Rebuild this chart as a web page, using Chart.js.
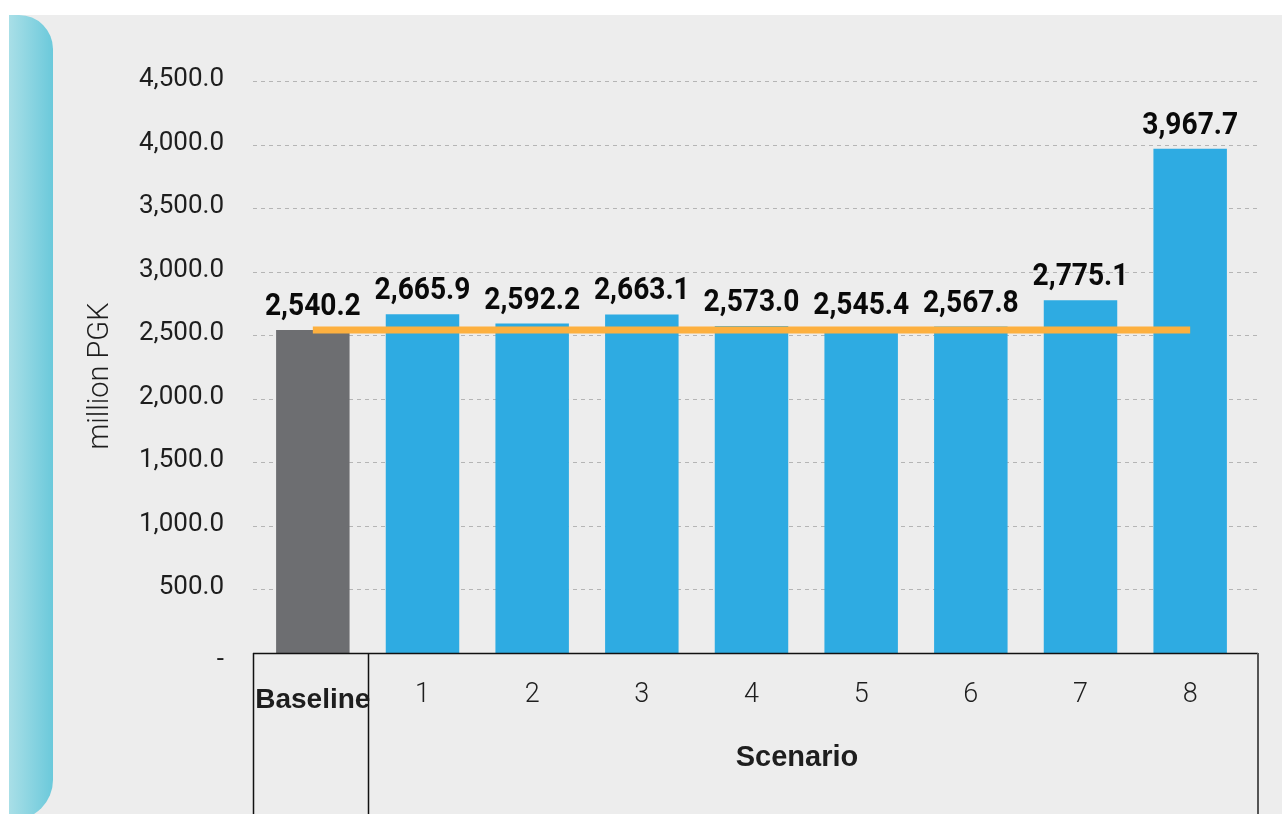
<!DOCTYPE html>
<html>
<head>
<meta charset="utf-8">
<title>Scenario totals</title>
<script src="https://cdn.jsdelivr.net/npm/chart.js@4.4.1/dist/chart.umd.min.js"></script>
<style>
  html, body { margin: 0; padding: 0; background: #ffffff; overflow: hidden; }
  canvas { display: block; }
</style>
</head>
<body>
<canvas id="chart" width="1282" height="814"></canvas>
<script>
// Scenario totals, million PGK
const categories = ['Baseline', '1', '2', '3', '4', '5', '6', '7', '8'];
const totalValues = [2540.2, 2665.9, 2592.2, 2663.1, 2573.0, 2545.4, 2567.8, 2775.1, 3967.7];
// Horizontal reference at the baseline level, drawn across every scenario
const baselineLevel = [2540.2, 2540.2, 2540.2, 2540.2, 2540.2, 2540.2, 2540.2, 2540.2, 2540.2];
const yTickValues = [0, 500, 1000, 1500, 2000, 2500, 3000, 3500, 4000, 4500];
const yAxisTitle = 'million PGK';
const xAxisTitle = 'Scenario';

const COLORS = {
  page: '#ffffff',
  panel: '#ededed',
  baselineBar: '#6d6e71',
  scenarioBar: '#2eabe2',
  reference: '#fdb03f',
  text: '#1e1e1e',
  grid: '#b5b5b5'
};

const fmt = v => v === 0 ? '-' : v.toLocaleString('en-US', { minimumFractionDigits: 1, maximumFractionDigits: 1 });

const backgroundPlugin = {
  id: 'panelBackground',
  beforeDraw(chart) {
    const ctx = chart.ctx;
    const W = chart.width, H = chart.height;
    ctx.save();
    ctx.fillStyle = COLORS.page;
    ctx.fillRect(0, 0, W, H);
    ctx.fillStyle = COLORS.panel;
    ctx.fillRect(9, 15, W - 9, H - 15);
    // rounded teal side strip
    const x0 = 9, x1 = 53, top = 15, bottom = 820, rt = 34, rb = 40;
    const g = ctx.createLinearGradient(x0, 0, x1, 0);
    g.addColorStop(0, '#a9dfe7');
    g.addColorStop(1, '#6bc9db');
    ctx.fillStyle = g;
    ctx.beginPath();
    ctx.moveTo(x0, top);
    ctx.lineTo(x1 - rt, top);
    ctx.arcTo(x1, top, x1, top + rt, rt);
    ctx.lineTo(x1, bottom - rb);
    ctx.arcTo(x1, bottom, x1 - rb, bottom, rb);
    ctx.lineTo(x0, bottom);
    ctx.closePath();
    ctx.fill();
    ctx.restore();
  }
};

const axesPlugin = {
  id: 'axesAndGrid',
  beforeDatasetsDraw(chart) {
    const ctx = chart.ctx;
    const y = chart.scales.y;
    ctx.save();
    // dashed horizontal gridlines
    ctx.strokeStyle = COLORS.grid;
    ctx.lineWidth = 1;
    ctx.setLineDash([4, 4]);
    yTickValues.forEach(v => {
      if (v === 0) return;
      const py = Math.round(y.getPixelForValue(v)) + 0.5;
      ctx.beginPath();
      ctx.moveTo(253, py);
      ctx.lineTo(1257, py);
      ctx.stroke();
    });
    ctx.setLineDash([]);
    // y tick labels
    ctx.fillStyle = COLORS.text;
    ctx.textAlign = 'right';
    ctx.textBaseline = 'alphabetic';
    ctx.font = '400 26px Roboto';
    yTickValues.forEach(v => {
      const py = y.getPixelForValue(v);
      ctx.fillText(fmt(v), 224, v === 0 ? py + 14 : py + 5);
    });
    // y axis title
    ctx.save();
    ctx.translate(108, 376);
    ctx.rotate(-Math.PI / 2);
    ctx.textAlign = 'center';
    ctx.font = '300 29px Roboto';
    ctx.fillText(yAxisTitle, 0, 0);
    ctx.restore();
    ctx.restore();
  },
  afterDatasetsDraw(chart) {
    const ctx = chart.ctx;
    const x = chart.scales.x;
    const y = chart.scales.y;
    const y0 = Math.round(y.getPixelForValue(0));
    const H = chart.height;
    ctx.save();
    // category table lines below the plot
    ctx.strokeStyle = '#111111';
    ctx.lineWidth = 1.5;
    ctx.beginPath();
    ctx.moveTo(253, y0 + 0.5);
    ctx.lineTo(1258, y0 + 0.5);
    ctx.moveTo(253.5, y0);
    ctx.lineTo(253.5, H);
    const split = (x.getPixelForValue(0) + x.getPixelForValue(1)) / 2;
    ctx.moveTo(Math.round(split) + 0.5, y0);
    ctx.lineTo(Math.round(split) + 0.5, H);
    ctx.stroke();
    ctx.strokeStyle = '#555555';
    ctx.lineWidth = 2;
    ctx.beginPath();
    ctx.moveTo(1258, y0);
    ctx.lineTo(1258, H);
    ctx.stroke();
    // category labels
    ctx.fillStyle = COLORS.text;
    ctx.textAlign = 'center';
    ctx.textBaseline = 'alphabetic';
    categories.forEach((c, i) => {
      const px = x.getPixelForValue(i);
      if (i === 0) {
        ctx.font = 'bold 28px "Liberation Sans", Arial, sans-serif';
        ctx.fillText(c, px, y0 + 55);
      } else {
        ctx.font = '300 27px Roboto';
        ctx.fillText(c, px, y0 + 49);
      }
    });
    ctx.font = 'bold 29px "Liberation Sans", Arial, sans-serif';
    ctx.fillText(xAxisTitle, 797, y0 + 113);
    ctx.restore();
  }
};

const valueLabelPlugin = {
  id: 'valueLabels',
  afterDraw(chart) {
    const ctx = chart.ctx;
    const meta = chart.getDatasetMeta(0);
    ctx.save();
    ctx.fillStyle = '#0a0a0a';
    ctx.textAlign = 'center';
    ctx.textBaseline = 'alphabetic';
    ctx.font = 'bold 32px Roboto';
    meta.data.forEach((bar, i) => {
      ctx.save();
      ctx.translate(bar.x, bar.y - 15);
      ctx.scale(0.88, 1);
      ctx.fillText(fmt(totalValues[i]), 0, 0);
      ctx.restore();
    });
    ctx.restore();
  }
};

new Chart(document.getElementById('chart'), {
  data: {
    labels: categories,
    datasets: [
      {
        type: 'bar',
        data: totalValues,
        backgroundColor: categories.map((c, i) => i === 0 ? COLORS.baselineBar : COLORS.scenarioBar),
        borderWidth: 0,
        barPercentage: 0.67,
        categoryPercentage: 1,
        order: 2
      },
      {
        type: 'line',
        data: baselineLevel,
        borderColor: COLORS.reference,
        borderWidth: 7,
        borderCapStyle: 'butt',
        pointRadius: 0,
        fill: false,
        tension: 0,
        order: 1
      }
    ]
  },
  options: {
    responsive: false,
    animation: false,
    events: [],
    layout: { padding: { left: 258, right: 37, top: 81, bottom: 161 } },
    plugins: { legend: { display: false }, tooltip: { enabled: false } },
    scales: {
      x: { type: 'category', display: false, offset: true },
      y: { type: 'linear', display: false, min: 0, max: 4500 }
    }
  },
  plugins: [backgroundPlugin, axesPlugin, valueLabelPlugin]
});
</script>
</body>
</html>
